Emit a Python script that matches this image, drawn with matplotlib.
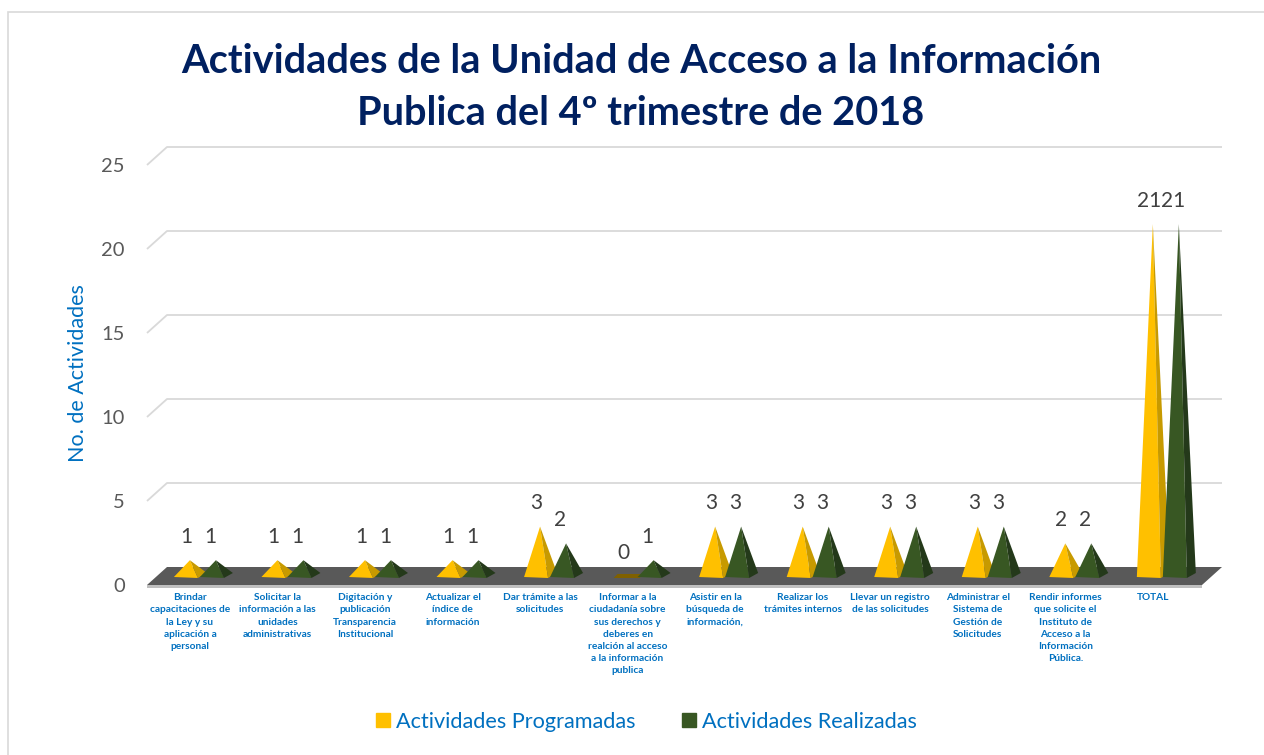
import matplotlib
matplotlib.use('Agg')
import matplotlib.pyplot as plt
from matplotlib.patches import Polygon, Rectangle
from matplotlib.lines import Line2D

categories = [
    "Brindar\ncapacitaciones de\nla Ley y su\naplicación a\npersonal",
    "Solicitar la\ninformación a las\nunidades\nadministrativas",
    "Digitación y\npublicación\nTransparencia\nInstitucional",
    "Actualizar el\níndice de\ninformación",
    "Dar trámite a las\nsolicitudes",
    "Informar a la\nciudadanía sobre\nsus derechos y\ndeberes en\nrealción al acceso\na la información\npublica",
    "Asistir en la\nbúsqueda de\ninformación,",
    "Realizar los\ntrámites internos",
    "Llevar un registro\nde las solicitudes",
    "Administrar el\nSistema de\nGestión de\nSolicitudes",
    "Rendir informes\nque solicite el\nInstituto de\nAcceso a la\nInformación\nPública.",
    "TOTAL",
]
programadas = [1, 1, 1, 1, 3, 0, 3, 3, 3, 3, 2, 21]
realizadas = [1, 1, 1, 1, 2, 1, 3, 3, 3, 3, 2, 21]
series_names = ["Actividades Programadas", "Actividades Realizadas"]
yticks = [0, 5, 10, 15, 20, 25]
title = "Actividades de la Unidad de Acceso a la Información\nPublica del 4º trimestre de 2018"
ylabel = "No. de Actividades"

plt.rcParams['font.family'] = ['Lato', 'DejaVu Sans']

W, H = 1264, 755
fig = plt.figure(figsize=(W / 100, H / 100), dpi=100)
fig.patch.set_facecolor('white')

# outer chart border
fig.patches.append(Rectangle((8 / W, -0.02), 1.0, 1 - 12 / H + 0.02, transform=fig.transFigure,
                             fill=False, edgecolor='#D9D9D9', lw=1.2))

ax = fig.add_axes([147 / W, 1 - 585 / H, (1222 - 147) / W, (585 - 165) / H])
ax.set_xlim(-0.49, 11.79)
ax.set_ylim(0, 25)
for s in ax.spines.values():
    s.set_visible(False)

PX = 12.28 / 1075.0   # x data units per pixel
PY = 25.0 / 420.0     # y data units per pixel
DX_BACK = 20 * PX
DY_BACK = 18 * PY
BASE = 8 * PY

# gridlines on back wall with slanted side wall segment
for v in yticks[1:]:
    ax.plot([-0.49, -0.49 + DX_BACK, 11.79], [v, v + DY_BACK, v + DY_BACK],
            color='#D9D9D9', lw=1.3, zorder=1, clip_on=False, solid_capstyle='butt')

# floor
floor = Polygon([(-0.49, 0.0), (11.79 - DX_BACK, 0.0), (11.79, DY_BACK), (-0.49 + DX_BACK, DY_BACK)],
                closed=True, facecolor='#595959', edgecolor='none', zorder=2, clip_on=False)
ax.add_patch(floor)
floor_edge = Polygon([(-0.49, 0.0), (11.79 - DX_BACK, 0.0), (11.79 - DX_BACK, -3 * PY), (-0.49, -3 * PY)],
                     closed=True, facecolor='#BFBFBF', edgecolor='none', zorder=2, clip_on=False)
ax.add_patch(floor_edge)


def pyramid(xc, v, light, dark, zero_color):
    if v <= 0:
        poly = Polygon([(xc - 14 * PX, BASE - 1 * PY), (xc + 12 * PX, BASE - 1 * PY),
                        (xc + 16 * PX, BASE + 3 * PY), (xc - 10 * PX, BASE + 3 * PY)],
                       closed=True, facecolor=zero_color, edgecolor='none', zorder=4, clip_on=False)
        ax.add_patch(poly)
        return
    top = BASE + v
    xl, xm, xr = xc - 16 * PX, xc + 8 * PX, xc + 17 * PX
    ax.add_patch(Polygon([(xl, BASE), (xc, top), (xm, BASE - 1 * PY)], closed=True,
                         facecolor=light, edgecolor='none', zorder=4, clip_on=False))
    ax.add_patch(Polygon([(xm, BASE - 1 * PY), (xc, top), (xr, BASE + 4 * PY)], closed=True,
                         facecolor=dark, edgecolor='none', zorder=4, clip_on=False))


GREEN_OFF = 26 * PX
for i, (p, r) in enumerate(zip(programadas, realizadas)):
    pyramid(i, p, '#FFC000', '#C79A00', '#7F6000')
    pyramid(i + GREEN_OFF, r, '#385723', '#24391A', '#24391A')
    ax.text(i - 4 * PX, BASE + p + 1.4, str(p), ha='center', va='center', fontsize=15,
            color='#404040', zorder=6)
    ax.text(i + 20 * PX, BASE + r + 1.4, str(r), ha='center', va='center', fontsize=15,
            color='#404040', zorder=6)

ax.set_yticks(yticks)
ax.set_yticklabels([str(t) for t in yticks], fontsize=14.5, color='#595959')
ax.tick_params(axis='y', length=0, pad=16)
ax.set_xticks(range(len(categories)))
ax.set_xticklabels(categories, fontsize=7.3, fontweight='bold', color='#0070C0', linespacing=1.45)
ax.tick_params(axis='x', length=0, pad=6)

fig.text(78 / W, 1 - 373 / H, ylabel, rotation=90, ha='center', va='center', fontsize=15.5,
         color='#0070C0')

fig.text(641 / W, 1 - 87.5 / H, title, ha='center', va='center', fontsize=28.6, fontweight='bold',
         color='#002060', linespacing=1.47)

handles = [Line2D([], [], marker='s', linestyle='none', markersize=10, color='#FFC000'),
           Line2D([], [], marker='s', linestyle='none', markersize=10, color='#385723')]
leg = fig.legend(handles, series_names, loc='center', bbox_to_anchor=(645 / W, 1 - 722 / H), ncol=2,
                 frameon=False, fontsize=15.6, handletextpad=0.15, columnspacing=2.0, handlelength=0.9)
for t in leg.get_texts():
    t.set_color('#0070C0')

fig.savefig('out.png', dpi=100, facecolor='white')
